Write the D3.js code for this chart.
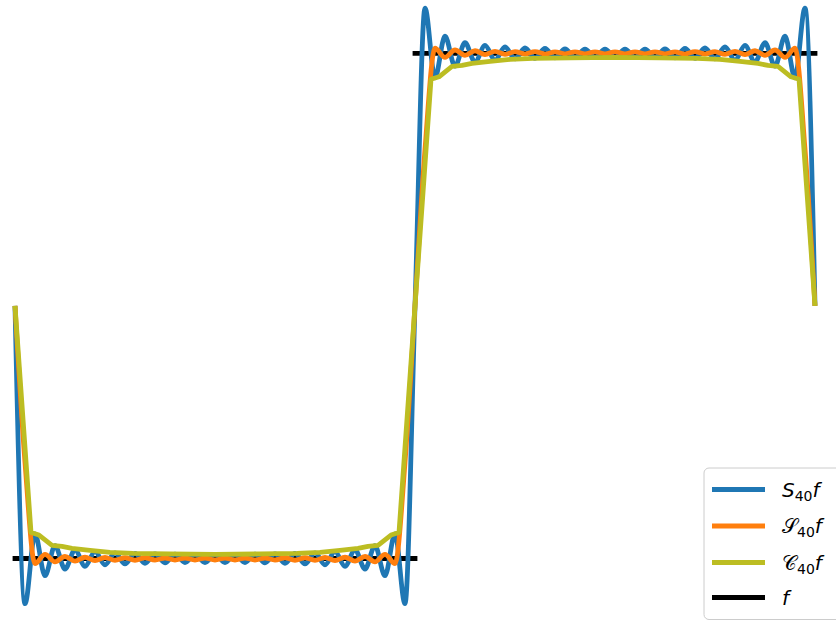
<!DOCTYPE html>
<html>
<head>
<meta charset="utf-8">
<script src="https://cdn.jsdelivr.net/npm/d3@7"></script>
<style>
  body { margin: 0; background: #fff; }
  svg { display: block; }
  .lbl { font-family: "DejaVu Sans", sans-serif; font-size: 20px; fill: #000; }
</style>
</head>
<body>
<script>
// x positions in units of pi (0 .. 2pi)
const xGrid = [0,0.025,0.05,0.075,0.1,0.125,0.15,0.175,0.2,0.225,0.25,0.275,0.3,0.325,0.35,0.375,0.4,0.425,0.45,0.475,
  0.5,0.525,0.55,0.575,0.6,0.625,0.65,0.675,0.7,0.725,0.75,0.775,0.8,0.825,0.85,0.875,0.9,0.925,0.95,0.975,
  1,1.025,1.05,1.075,1.1,1.125,1.15,1.175,1.2,1.225,1.25,1.275,1.3,1.325,1.35,1.375,1.4,1.425,1.45,1.475,
  1.5,1.525,1.55,1.575,1.6,1.625,1.65,1.675,1.7,1.725,1.75,1.775,1.8,1.825,1.85,1.875,1.9,1.925,1.95,1.975,2]

// S_40 f  (partial sum, read at its peaks / troughs)
const sumVals = [0,
  -1.179,-0.903,-1.068,-0.949,-1.042,-0.965,-1.031,-0.973,-1.025,-0.978,
  -1.021,-0.980,-1.019,-0.982,-1.017,-0.983,-1.016,-0.984,-1.016,-0.984,
  -1.016,-0.984,-1.016,-0.983,-1.017,-0.982,-1.019,-0.980,-1.021,-0.978,
  -1.025,-0.973,-1.031,-0.965,-1.042,-0.949,-1.068,-0.903,-1.179,
  0,
  1.179,0.903,1.068,0.949,1.042,0.965,1.031,0.973,1.025,0.978,
  1.021,0.980,1.019,0.982,1.017,0.983,1.016,0.984,1.016,0.984,
  1.016,0.984,1.016,0.983,1.017,0.982,1.019,0.980,1.021,0.978,
  1.025,0.973,1.031,0.965,1.042,0.949,1.068,0.903,1.179,
  0]

// sigma approximation
const sigmaVals = [0,
  -0.62,-1.020,-0.984,-1.013,-0.992,-1.010,-0.995,-1.008,-0.996,-1.007,
  -0.997,-1.007,-0.997,-1.006,-0.998,-1.006,-0.998,-1.006,-0.998,-1.006,
  -0.998,-1.006,-0.998,-1.006,-0.998,-1.006,-0.997,-1.007,-0.997,-1.007,
  -0.996,-1.008,-0.995,-1.010,-0.992,-1.013,-0.984,-1.020,-0.62,
  0,
  0.62,1.020,0.984,1.013,0.992,1.010,0.995,1.008,0.996,1.007,
  0.997,1.007,0.997,1.006,0.998,1.006,0.998,1.006,0.998,1.006,
  0.998,1.006,0.998,1.006,0.998,1.006,0.997,1.007,0.997,1.007,
  0.996,1.008,0.995,1.010,0.992,1.013,0.984,1.020,0.62,
  0]

// Cesaro mean C_40 f
const cesX = [0,0.04,0.06,0.0925,0.1175,0.1425,0.1875,0.2375,0.295,0.3875,0.5,0.6125,0.705,0.7625,0.8125,0.8575,0.8825,0.9075,0.94,0.96,
  1,1.04,1.06,1.0925,1.1175,1.1425,1.1875,1.2375,1.295,1.3875,1.5,1.6125,1.705,1.7625,1.8125,1.8575,1.8825,1.9075,1.94,1.96,2]
const cesVals = [0,-0.897,-0.907,-0.948,-0.952,-0.960,-0.968,-0.976,-0.980,-0.982,-0.984,-0.982,-0.980,-0.976,-0.968,-0.960,-0.952,-0.948,-0.907,-0.897,
  0,0.897,0.907,0.948,0.952,0.960,0.968,0.976,0.980,0.982,0.984,0.982,0.980,0.976,0.968,0.960,0.952,0.948,0.907,0.897,0]

// the square wave f: two flat pieces
const fPieces = [[[0,-1],[1,-1]], [[1,1],[2,1]]]

const legendLabels = ['S', '\u{1D4AE}', '\u{1D49E}', 'f']
const colors = ['#1f77b4', '#ff7f0e', '#bcbd22', '#000000']

const W = 836, H = 621
const lw = 4.8
const svg = d3.select('body').append('svg').attr('width', W).attr('height', H)

const x = d3.scaleLinear().domain([0, 2]).range([15, 815])
const y = d3.scaleLinear().domain([-1, 1]).range([558.5, 53.3])

const smooth = d3.line().x(d => x(d[0])).y(d => y(d[1])).curve(d3.curveMonotoneX)
const straight = d3.line().x(d => x(d[0])).y(d => y(d[1]))

// f first so the others sit on top
fPieces.forEach(p => {
  svg.append('path').attr('d', straight(p))
     .attr('fill', 'none').attr('stroke', colors[3]).attr('stroke-width', lw)
     .attr('stroke-linecap', 'square')
})

svg.append('path').attr('d', smooth(xGrid.map((v, i) => [v, sumVals[i]])))
   .attr('fill', 'none').attr('stroke', colors[0]).attr('stroke-width', lw)
   .attr('stroke-linejoin', 'round')

svg.append('path').attr('d', smooth(xGrid.map((v, i) => [v, sigmaVals[i]])))
   .attr('fill', 'none').attr('stroke', colors[1]).attr('stroke-width', lw)
   .attr('stroke-linejoin', 'round')

svg.append('path').attr('d', straight(cesX.map((v, i) => [v, cesVals[i]])))
   .attr('fill', 'none').attr('stroke', colors[2]).attr('stroke-width', lw)
   .attr('stroke-linejoin', 'round')

// legend
const lg = svg.append('g').attr('id', 'legend')
lg.append('rect').attr('x', 704).attr('y', 468).attr('width', 140).attr('height', 151.5)
  .attr('rx', 5).attr('fill', 'rgba(255,255,255,0.8)').attr('stroke', '#cccccc').attr('stroke-width', 1)

const rowY = [489.5, 526, 562.5, 597.5]
legendLabels.forEach((l, i) => {
  lg.append('line').attr('x1', 712).attr('x2', 765).attr('y1', rowY[i]).attr('y2', rowY[i])
    .attr('stroke', colors[i]).attr('stroke-width', lw)
  const t = lg.append('text').attr('class', 'lbl').attr('x', 782).attr('y', rowY[i] + 7)
  t.append('tspan').attr('font-style', i == 0 || i == 3 ? 'italic' : 'normal').text(l)
  if (i < 3) {
    t.append('tspan').attr('font-size', 14).attr('dy', 4).text('40')
    t.append('tspan').attr('font-style', 'italic').attr('dy', -4).text('f')
  }
})
</script>
</body>
</html>
